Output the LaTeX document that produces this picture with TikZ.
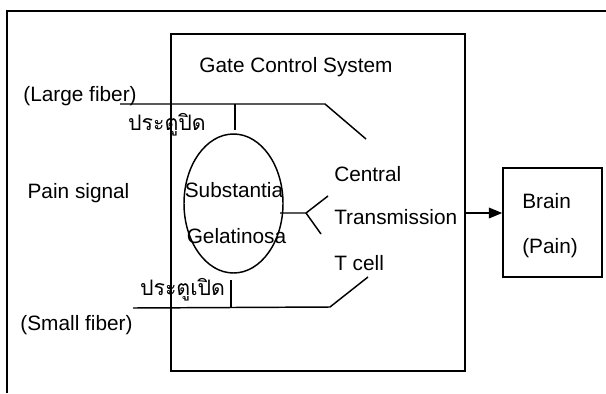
\documentclass[tikz,border=0pt]{standalone}
\usepackage{fontspec}
\setmainfont{Liberation Sans}
\newfontfamily\thaifont[Script=Thai]{Loma}
\usetikzlibrary{shapes.geometric,arrows.meta,positioning,fit}
\begin{document}
\begin{tikzpicture}[x=0.75pt, y=-0.75pt]
    % Define Styles
        \tikzstyle{frameline} = [
            draw,
            line width = 1.3pt
        ]
        \tikzstyle{box} = [
            rectangle,
            draw,
            inner sep = 0pt,
            line width = 1.2pt
        ]
        \tikzstyle{txt} = [
            inner sep = 0pt,
            text height = 11.2pt,
            text depth = 0pt,
            font = \fontsize{15.6}{18}\selectfont
        ]
        \tikzstyle{thai} = [
            inner sep = 0pt,
            font = \thaifont\fontsize{16}{18}\selectfont
        ]
        \tikzstyle{wire} = [
            draw,
            line width = 1.1pt
        ]
    \useasboundingbox (0,0) rectangle (606,393);
    % Page frame
        \draw [frameline] (7,393) -- (7,11) -- (606,11);
    % Place nodes
        \coordinate (gcsNW) at (171,34);
        \coordinate (gcsSE) at (465,371);
        \node [box, fit = (gcsNW) (gcsSE)] (gcs) {};
        \coordinate (brainNW) at (503,168);
        \coordinate (brainSE) at (602,277);
        \node [box, fit = (brainNW) (brainSE)] (brain) {};
        \node [ellipse, draw, line width = 1.1pt, inner sep = 0pt,
            minimum width = 74.25pt, minimum height = 104.25pt]
            (sg) at (233.5,203.5) {};
        \node [txt] (title) at (296,65) {Gate Control System};
        \node [txt] (large) at (80,94) {(Large fiber)};
        \node [txt] (pain) at (78.5,191) {Pain signal};
        \node [txt] (small) at (76.5,323) {(Small fiber)};
        \node [txt] (subst) at (234,190) {Substantia};
        \node [txt] (gelat) at (236.5,236) {Gelatinosa};
        \node [txt, anchor = west] (central) at (334,174) {Central};
        \node [txt, anchor = west] (trans) at (334,217) {Transmission};
        \node [txt, anchor = west] (tcell) at (334,263) {T cell};
        \node [txt, anchor = west] (brainA) at (522,201) {Brain};
        \node [txt, anchor = west] (brainB) at (522,246) {(Pain)};
        \node [thai] (closed) at (167,125) {ประตูปิด};
        \node [thai] (opened) at (182.5,290) {ประตูเปิด};
    % Fiber and gate points
        \coordinate (lf1) at (120,104);
        \coordinate (lf2) at (325,104);
        \coordinate (lf3) at (366,139);
        \coordinate (lg1) at (235,104);
        \coordinate (lg2) at (235,130);
        \coordinate (sf1) at (133,308);
        \coordinate (sf2) at (330,307);
        \coordinate (sf3) at (368,277);
        \coordinate (sg1) at (231,308);
        \coordinate (sg2) at (231,280);
        \coordinate (tc0) at (280,213);
        \coordinate (tc1) at (306,213);
        \coordinate (tc2) at (328,196);
        \coordinate (tc3) at (321,234);
        \coordinate (out) at (465,213);
    % Draw edges
        \path [wire] (lf1) -- (lf2) -- (lf3);
        \path [wire] (lg1) -- (lg2);
        \path [wire] (sf1) -- (sf2) -- (sf3);
        \path [wire] (sg1) -- (sg2);
        \path [wire] (tc0) -- (tc1) -- (tc2);
        \path [wire] (tc1) -- (tc3);
        \path [wire, -{Triangle[length=10pt, width=8pt]}] (out) -- (out -| brain.west);
\end{tikzpicture}
\end{document}
